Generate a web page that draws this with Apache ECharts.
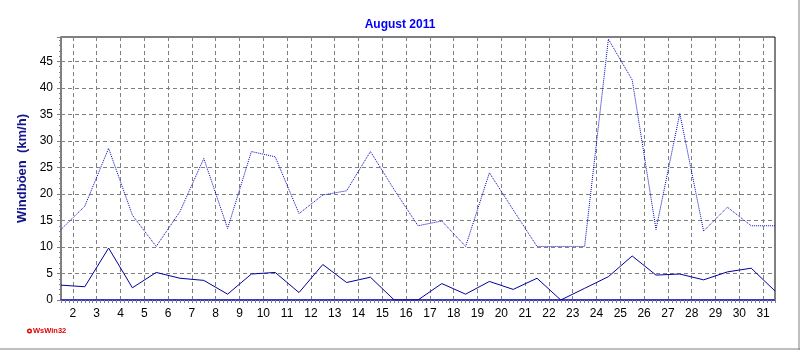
<!DOCTYPE html>
<html>
<head>
<meta charset="utf-8">
<script src="https://cdn.jsdelivr.net/npm/echarts@6/dist/echarts.min.js"></script>
<style>
  html, body { margin: 0; padding: 0; background: #fff; }
  #chart { width: 800px; height: 350px; }
</style>
</head>
<body>
<div id="chart"></div>
<script>
// Daily wind values for August 2011 (km/h)
const days = [1,2,3,4,5,6,7,8,9,10,11,12,13,14,15,16,17,18,19,20,21,22,23,24,25,26,27,28,29,30,31];
const windAvg = [2.8,2.5,9.8,2.3,5.2,4.1,3.7,1.1,4.9,5.2,1.4,6.7,3.3,4.3,0,0,3.1,1.1,3.5,2.0,4.1,0,2.2,4.4,8.3,4.7,4.9,3.8,5.3,6.0,1.7];
const windGust = [13.3,17.7,28.6,16.0,10.1,16.7,26.7,13.5,28.0,27.0,16.3,19.8,20.6,28.0,20.8,14.0,14.9,10.1,24.0,17.0,10.1,10.1,10.1,49.2,41.5,13.3,35.2,13.0,17.5,14.0,14.0];
const xTickLabels = [2,3,4,5,6,7,8,9,10,11,12,13,14,15,16,17,18,19,20,21,22,23,24,25,26,27,28,29,30,31];
const yTickLabels = [0,5,10,15,20,25,30,35,40,45];

// each day's value sits in the middle of its day slot
const avgPoints = days.map((d, i) => [d + 0.5, windAvg[i]]);
const gustPoints = days.map((d, i) => [d + 0.5, windGust[i]]);

// fine ticks along the bottom: six per day
const minorX = [];
for (let i = 0; i <= 180; i++) minorX.push(1.5 + i / 6);

const FONT = '"Liberation Sans", Arial, sans-serif';
const chart = echarts.init(document.getElementById('chart'), null, { renderer: 'canvas' });

chart.setOption({
  animation: false,
  backgroundColor: '#ffffff',
  title: {
    text: 'August 2011',
    left: 'center',
    top: 14,
    textStyle: { color: '#0000ff', fontSize: 12, fontWeight: 'bold', fontFamily: FONT }
  },
  grid: {
    left: 61, right: 25, top: 37, bottom: 50,
    show: true, borderColor: '#000000', borderWidth: 1, backgroundColor: 'transparent'
  },
  xAxis: [
    {
      type: 'value', min: 1.5, max: 31.5,
      axisLine: { show: true, onZero: false, lineStyle: { color: '#808080', width: 2 } },
      axisTick: { show: false, customValues: xTickLabels },
      axisLabel: {
        customValues: xTickLabels, color: '#000', fontSize: 12, fontFamily: FONT, margin: 8
      },
      splitLine: { show: true, lineStyle: { color: '#808080', type: [4, 3], width: 1 } }
    },
    {
      type: 'value', min: 1.5, max: 31.5, position: 'bottom',
      axisLine: { show: true, onZero: false, lineStyle: { color: '#3838c8', width: 2, type: [1, 1] } },
      axisTick: { show: true, customValues: minorX, length: 3, lineStyle: { color: '#808080' } },
      axisLabel: { show: false, customValues: [] },
      splitLine: { show: false }
    }
  ],
  yAxis: {
    type: 'value', min: 0, max: 49.6, interval: 5,
    name: 'Windböen  (km/h)',
    nameLocation: 'middle',
    nameRotate: 90,
    nameGap: 23,
    nameTextStyle: { color: '#14148c', fontSize: 13, fontWeight: 'bold', fontFamily: FONT },
    axisLine: { show: true, lineStyle: { color: '#808080', width: 2 } },
    axisTick: { show: true, length: 4, lineStyle: { color: '#808080' } },
    minorTick: { show: true, splitNumber: 5, length: 2, lineStyle: { color: '#808080' } },
    axisLabel: {
      color: '#000', fontSize: 12, fontFamily: FONT, margin: 8,
      formatter: v => (yTickLabels.indexOf(v) >= 0 ? String(v) : '')
    },
    splitLine: { show: true, lineStyle: { color: '#808080', type: [4, 3], width: 1 } }
  },
  series: [
    {
      name: 'Windböen', type: 'line', data: gustPoints, xAxisIndex: 0,
      showSymbol: false, symbol: 'none',
      lineStyle: { color: '#0000c0', width: 1, type: [1, 1] }
    },
    {
      name: 'Wind', type: 'line', data: avgPoints, xAxisIndex: 0,
      showSymbol: false, symbol: 'none',
      lineStyle: { color: '#00009c', width: 1 }
    }
  ],
  graphic: [
    { type: 'line', shape: { x1: 0, y1: 349, x2: 800, y2: 349 }, style: { stroke: '#808080', lineWidth: 1 } },
    { type: 'line', shape: { x1: 799, y1: 0, x2: 799, y2: 350 }, style: { stroke: '#808080', lineWidth: 1 } },
    { type: 'circle', shape: { cx: 29.5, cy: 331, r: 1.8 }, style: { fill: '#fff', stroke: '#e00000', lineWidth: 1.4 } },
    {
      type: 'text', left: 33, top: 327,
      style: { text: 'WsWin32', fill: '#e00000', font: 'bold 7.5px ' + FONT }
    }
  ]
});
</script>
</body>
</html>
